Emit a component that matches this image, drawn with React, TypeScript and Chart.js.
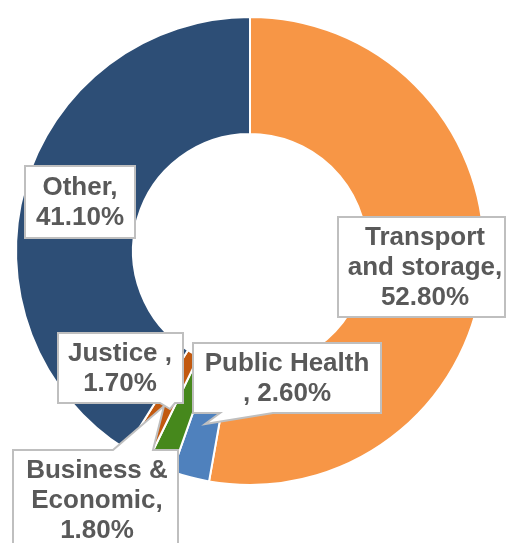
import React, { useEffect, useRef } from "react";
import { Chart, registerables } from "chart.js";

Chart.register(...registerables);

// ---- data ----
const categories = ["Transport and storage", "Public Health", "Business & Economic", "Justice", "Other"];
const shares = [52.8, 2.6, 1.8, 1.7, 41.1];
const labelNameLines = [["Transport", "and storage,"], ["Public Health"], ["Business &", "Economic,"], ["Justice ,"], ["Other,"]];
const percentPrefix = ["", ", ", "", "", ""];

// ---- styles ----
const sliceColors = ["#F79646", "#4F81BD", "#46881C", "#C2590F", "#2D4E76"];
const TEXT_COLOR = "#595959";
const BOX_BORDER = "#BFBFBF";
const FONT = "bold 26px 'Liberation Sans', Arial, sans-serif";
const LINE_H = 30;

// callout layout (canvas px): box rect, text centre, optional tail
type Callout = { x: number; y: number; w: number; h: number; cx: number; tail?: { edge: "top" | "bottom"; a: number; b: number; px: number; py: number } };
const callouts: Callout[] = [
  { x: 338, y: 217, w: 167, h: 100, cx: 425 },
  { x: 193, y: 343, w: 188, h: 70, cx: 287, tail: { edge: "bottom", a: 273, b: 220, px: 205, py: 424 } },
  { x: 13, y: 450, w: 165, h: 101, cx: 97, tail: { edge: "top", a: 113, b: 153, px: 164, py: 406 } },
  { x: 58, y: 333, w: 125, h: 70, cx: 120, tail: { edge: "bottom", a: 175, b: 160, px: 170, py: 409 } },
  { x: 25, y: 166, w: 110, h: 72, cx: 80 },
];

const calloutPlugin = {
  id: "callouts",
  afterDatasetsDraw(chart: any) {
    const ctx = chart.ctx as CanvasRenderingContext2D;
    ctx.save();
    callouts.forEach((c, i) => {
      const { x, y, w, h, tail } = c;
      ctx.beginPath();
      ctx.moveTo(x, y);
      if (tail && tail.edge === "top") {
        ctx.lineTo(tail.a, y);
        ctx.lineTo(tail.px, tail.py);
        ctx.lineTo(tail.b, y);
      }
      ctx.lineTo(x + w, y);
      ctx.lineTo(x + w, y + h);
      if (tail && tail.edge === "bottom") {
        ctx.lineTo(tail.a, y + h);
        ctx.lineTo(tail.px, tail.py);
        ctx.lineTo(tail.b, y + h);
      }
      ctx.lineTo(x, y + h);
      ctx.closePath();
      ctx.fillStyle = "#FFFFFF";
      ctx.fill();
      ctx.strokeStyle = BOX_BORDER;
      ctx.lineWidth = 2;
      ctx.stroke();

      const lines = [...labelNameLines[i]];
      lines.push(percentPrefix[i] + shares[i].toFixed(2) + "%");
      ctx.fillStyle = TEXT_COLOR;
      ctx.font = FONT;
      ctx.textAlign = "center";
      ctx.textBaseline = "middle";
      const midY = y + 5 + LINE_H / 2 + (i === 2 ? 0 : (h - 10 - lines.length * LINE_H) / 2);
      lines.forEach((t, k) => {
        ctx.fillText(t, c.cx, midY + k * LINE_H + 1);
      });
    });
    ctx.restore();
  },
};

export default function App() {
  const canvasRef = useRef<HTMLCanvasElement | null>(null);

  useEffect(() => {
    document.body.style.margin = "0";
    const canvas = canvasRef.current;
    if (!canvas) return;
    const chart = new Chart(canvas, {
      type: "doughnut",
      data: {
        labels: categories,
        datasets: [
          {
            data: shares,
            backgroundColor: sliceColors,
            borderColor: "#FFFFFF",
            borderWidth: 2,
          },
        ],
      },
      options: {
        responsive: false,
        animation: false,
        cutout: "50%",
        layout: { padding: { left: 15, right: 21, top: 16, bottom: 57 } },
        plugins: {
          legend: { display: false },
          tooltip: { enabled: false },
          title: { display: false },
        },
      },
      plugins: [calloutPlugin],
    });
    return () => chart.destroy();
  }, []);

  return (
    <div style={{ width: 506, height: 543, background: "#FFFFFF" }}>
      <canvas ref={canvasRef} width={506} height={543} style={{ display: "block" }} />
    </div>
  );
}
